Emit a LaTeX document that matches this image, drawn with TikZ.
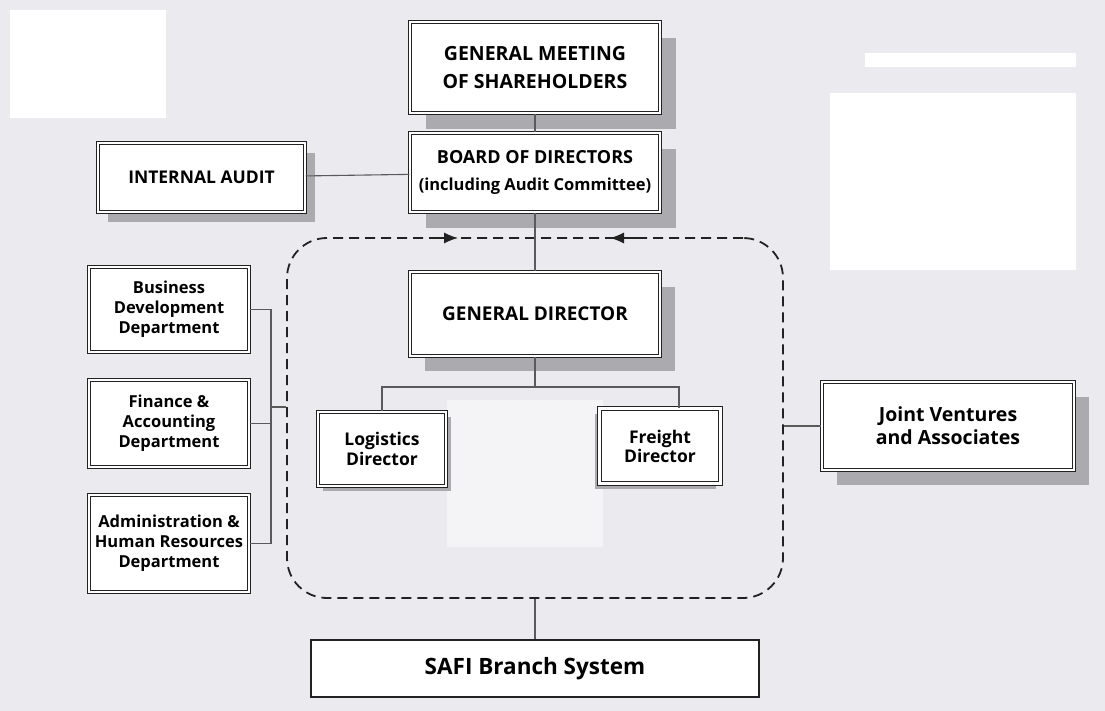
\documentclass[tikz,border=0pt]{standalone}
\usepackage{fontspec}
\setmainfont{Open Sans}
\usetikzlibrary{positioning,arrows.meta,shadows}

\definecolor{paper}{HTML}{EBEAEF}
\definecolor{paperlight}{HTML}{F4F4F7}
\definecolor{ink}{HTML}{222222}
\definecolor{wiregrey}{HTML}{5A5A5A}
\definecolor{shadowgrey}{HTML}{ABABAF}

\tikzset{
  unit/.style={draw=ink, double=white, double distance=2.2pt, line width=1.3pt,
    fill=white, align=center, font=\bfseries, inner sep=1pt},
  shadowed/.style={general shadow={fill=shadowgrey, shadow xshift=#1, shadow yshift=-#1}},
  wire/.style={draw=wiregrey, line width=1.1pt},
}

\begin{document}
\begin{tikzpicture}[x=1pt, y=-1pt]
      % page and scan patches
      \fill[paper] (0,0) rectangle (1105,711);
      \useasboundingbox (0,0) rectangle (1105,711);
      \fill[white] (10,10) rectangle (166,118);
      \fill[white] (865,53) rectangle (1076,67);
      \fill[white] (830,93) rectangle (1076,270);
      \fill[paperlight] (447,400) rectangle (603,547);

      % team frame
      \node[draw=ink, dashed, dash pattern=on 10pt off 6pt, line width=1.8pt,
        rounded corners=40pt, minimum width=496, minimum height=360] (team) at (535,418) {};
      \draw[ink, line width=1.2pt, -{Latex[length=14pt, width=11pt]}] (430,238) -- (458,238);
      \draw[ink, line width=1.2pt, -{Latex[length=14pt, width=11pt]}] (640,238) -- (610,238);

      % boxes
      \node[unit, shadowed=16pt, minimum width=250, minimum height=91,
        font=\bfseries\fontsize{19.5}{28}\selectfont] (gms) at (535,67.5) {GENERAL MEETING\\OF SHAREHOLDERS};
      \node[unit, shadowed=16pt, minimum width=250, minimum height=79,
        font=\bfseries\fontsize{18}{27}\selectfont] (bod) at (535,172.5)
        {BOARD OF DIRECTORS\\{\fontsize{16.5}{17}\selectfont (including Audit Committee)}};
      \node[unit, shadowed=10pt, minimum width=207, minimum height=69,
        font=\bfseries\fontsize{17.5}{19}\selectfont] (audit) at (201.5,177.5) {INTERNAL AUDIT};
      \node[unit, shadowed=15pt, minimum width=250, minimum height=84,
        font=\bfseries\fontsize{19}{20}\selectfont] (gd) at (535,314) {GENERAL DIRECTOR};
      \node[unit, shadowed=5pt, minimum width=128, minimum height=74,
        font=\bfseries\fontsize{17.5}{20}\selectfont] (logi) at (382,449) {Logistics\\Director};
      \node[unit, general shadow={fill=shadowgrey, shadow xshift=-5pt, shadow yshift=-5pt},
        minimum width=121, minimum height=75,
        font=\bfseries\fontsize{17.5}{19}\selectfont] (freight) at (660,446) {Freight\\Director};
      \node[unit, shadowed=15pt, minimum width=252, minimum height=88,
        font=\bfseries\fontsize{19.5}{23}\selectfont] (jv) at (948,426) {Joint Ventures\\and Associates};
      \node[unit, minimum width=160, minimum height=85,
        font=\bfseries\fontsize{16.5}{20}\selectfont] (bizdev) at (169,309.5) {Business\\Development\\Department};
      \node[unit, minimum width=160, minimum height=87,
        font=\bfseries\fontsize{16.5}{20}\selectfont] (fin) at (169,423.5) {Finance \&\\Accounting\\Department};
      \node[unit, minimum width=160, minimum height=97, inner sep=0pt,
        font=\bfseries\fontsize{16.5}{20}\selectfont] (admin) at (169,543.5) {Administration \&\\Human Resources\\Department};
      \node[draw=ink, line width=1.8pt, fill=white, minimum width=448, minimum height=57,
        font=\bfseries\fontsize{22.5}{24}\selectfont] (safi) at (535,668.5) {SAFI Branch System};

      % connectors
      \coordinate (split) at (535,387);
      \coordinate (spine) at (271,407);
      \draw[wire] (gms) -- (bod);
      \draw[wire] (audit) -- (bod);
      \draw[wire] (bod) -- (gd);
      \draw[wire] (gd) -- (split);
      \draw[wire] (logi.north) |- (split) -| ([xshift=19pt]freight.north);
      \draw[wire] (bizdev.east) -| (spine);
      \draw[wire] (admin.east) -| (spine);
      \draw[wire] (fin.east) -- (fin.east -| spine);
      \draw[wire] (spine) -- (spine -| team.west);
      \draw[wire] (team.east |- jv.west) -- (jv.west);
      \draw[wire] (team.south) -- (safi.north);
\end{tikzpicture}
\end{document}
